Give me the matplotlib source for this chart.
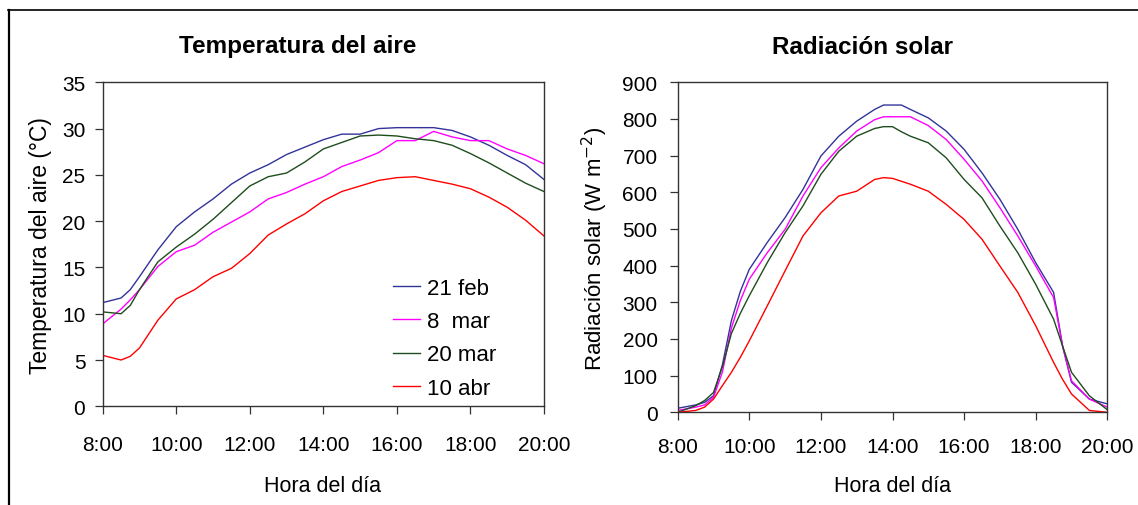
import matplotlib
matplotlib.use("Agg")
import matplotlib.pyplot as plt
from matplotlib.lines import Line2D

plt.rcParams['font.family'] = ['Liberation Sans', 'DejaVu Sans']

# ---------------- data ----------------
series_labels = ["21 feb", "8  mar", "20 mar", "10 abr"]
series_colors = ["#33339a", "#ff00ff", "#1e4d1e", "#ff0000"]

# Temperature (hours)
t_hours = [8.0, 8.5, 8.75, 9.0, 9.5, 10.0, 10.5, 11.0, 11.5, 12.0, 12.5, 13.0, 13.5,
           14.0, 14.5, 15.0, 15.5, 16.0, 16.5, 17.0, 17.5, 18.0, 18.5, 19.0, 19.5, 20.0]
temp_21feb = [11.2, 11.7, 12.6, 14.0, 16.9, 19.4, 21.0, 22.4, 24.0, 25.2, 26.1, 27.2, 28.0,
              28.8, 29.4, 29.4, 30.0, 30.1, 30.1, 30.1, 29.8, 29.1, 28.2, 27.1, 26.1, 24.5]
temp_8mar = [8.9, 10.5, 11.5, 12.6, 15.1, 16.7, 17.4, 18.8, 19.9, 21.0, 22.4, 23.1, 24.0,
             24.8, 25.9, 26.6, 27.4, 28.7, 28.7, 29.7, 29.1, 28.7, 28.7, 27.8, 27.1, 26.2]
temp_20mar = [10.2, 10.0, 10.9, 12.6, 15.6, 17.2, 18.6, 20.2, 22.0, 23.8, 24.8, 25.2, 26.4,
              27.8, 28.5, 29.2, 29.3, 29.2, 28.9, 28.7, 28.2, 27.3, 26.3, 25.2, 24.1, 23.2]
temp_10abr = [5.5, 5.0, 5.4, 6.3, 9.3, 11.6, 12.6, 14.0, 14.9, 16.5, 18.5, 19.7, 20.8,
              22.2, 23.2, 23.8, 24.4, 24.7, 24.8, 24.4, 24.0, 23.5, 22.6, 21.5, 20.1, 18.4]

# Radiation (hours)
r_hours = [8.0, 8.5, 8.75, 9.0, 9.25, 9.5, 9.75, 10.0, 10.5, 11.0, 11.5, 12.0, 12.5, 13.0, 13.5,
           13.75, 14.0, 14.25, 14.5, 15.0, 15.5, 16.0, 16.5, 17.0, 17.5, 18.0, 18.5, 18.75,
           19.0, 19.5, 20.0]
rad_21feb = [11, 20, 27, 45, 130, 250, 330, 390, 463, 531, 608, 699, 753, 794, 826,
             838, 838, 838, 826, 803, 767, 717, 653, 581, 499, 408, 327, 181,
             82, 36, 23]
rad_8mar = [5, 14, 20, 41, 110, 230, 305, 363, 435, 499, 590, 667, 721, 767, 798,
            806, 806, 806, 806, 782, 744, 690, 631, 558, 481, 399, 313, 181,
            86, 36, 14]
rad_20mar = [0, 18, 32, 54, 125, 215, 270, 318, 408, 490, 563, 649, 712, 753, 774,
             779, 779, 765, 753, 735, 694, 635, 585, 508, 435, 349, 254, 181,
             109, 45, 7]
rad_10abr = [0, 5, 14, 36, 73, 109, 150, 195, 290, 386, 481, 544, 590, 603, 635,
             640, 638, 630, 622, 603, 567, 526, 472, 399, 327, 236, 136, 90,
             50, 5, 0]

x_ticks = [8, 10, 12, 14, 16, 18, 20]
x_tick_labels = ["8:00", "10:00", "12:00", "14:00", "16:00", "18:00", "20:00"]

# ---------------- figure ----------------
W, H = 1138, 506
fig = plt.figure(figsize=(W / 100, H / 100), dpi=100)

def px_axes(l, t, r, b):
    return fig.add_axes([l / W, 1 - b / H, (r - l) / W, (b - t) / H])

ax1 = px_axes(102.7, 83.3, 544.0, 407.3)
ax2 = px_axes(677.7, 83.3, 1107.3, 413.3)

for y, lab, c in zip([temp_21feb, temp_8mar, temp_20mar, temp_10abr], series_labels, series_colors):
    ax1.plot(t_hours, y, color=c, lw=1.0, label=lab)
for y, lab, c in zip([rad_21feb, rad_8mar, rad_20mar, rad_10abr], series_labels, series_colors):
    ax2.plot(r_hours, y, color=c, lw=1.0, label=lab)

ax1.set_xlim(8, 20)
ax1.set_ylim(0, 35)
ax1.set_yticks(range(0, 36, 5))
ax2.set_xlim(8, 20)
ax2.set_ylim(0, 900)
ax2.set_yticks(range(0, 901, 100))

for ax in (ax1, ax2):
    ax.set_xticks(x_ticks)
    ax.set_xticklabels(x_tick_labels)
    ax.tick_params(axis='both', direction='out', length=5.5, width=0.9, labelsize=15, color='#333333')
    for s in ax.spines.values():
        s.set_linewidth(1.0)
        s.set_color('#333333')
ax1.tick_params(axis='x', pad=15)
ax1.tick_params(axis='y', pad=7)
ax2.tick_params(axis='x', pad=12)
ax2.tick_params(axis='y', pad=9)

ax1.set_ylabel("Temperatura del aire (°C)", fontsize=16.5, labelpad=7)
ax2.set_ylabel("Radiación solar (W m$^{-2}$)", fontsize=16, labelpad=9)

fig.text(298 / W, 1 - 47 / H, "Temperatura del aire", ha='center', va='center',
         fontsize=17.5, fontweight='bold')
fig.text(862 / W, 1 - 47 / H, "Radiación solar", ha='center', va='center',
         fontsize=17.5, fontweight='bold')
fig.text(323 / W, 1 - 487 / H, "Hora del día", ha='center', va='center', fontsize=15.5)
fig.text(892 / W, 1 - 487 / H, "Hora del día", ha='center', va='center', fontsize=15.5)

leg = ax1.legend(loc='upper left', bbox_to_anchor=(0.658, 0.396), frameon=False,
                 fontsize=16, handlelength=1.2, handletextpad=0.32, labelspacing=0.55,
                 borderaxespad=0, borderpad=0)

# outer frame (left & top)
fig.add_artist(Line2D([9 / W, 9 / W], [0, 1 - 10.5 / H], transform=fig.transFigure, color='black', lw=1.6))
fig.add_artist(Line2D([8.4 / W, 1], [1 - 10.5 / H, 1 - 10.5 / H], transform=fig.transFigure, color='black', lw=1.2))

fig.savefig("out.png", dpi=100)
